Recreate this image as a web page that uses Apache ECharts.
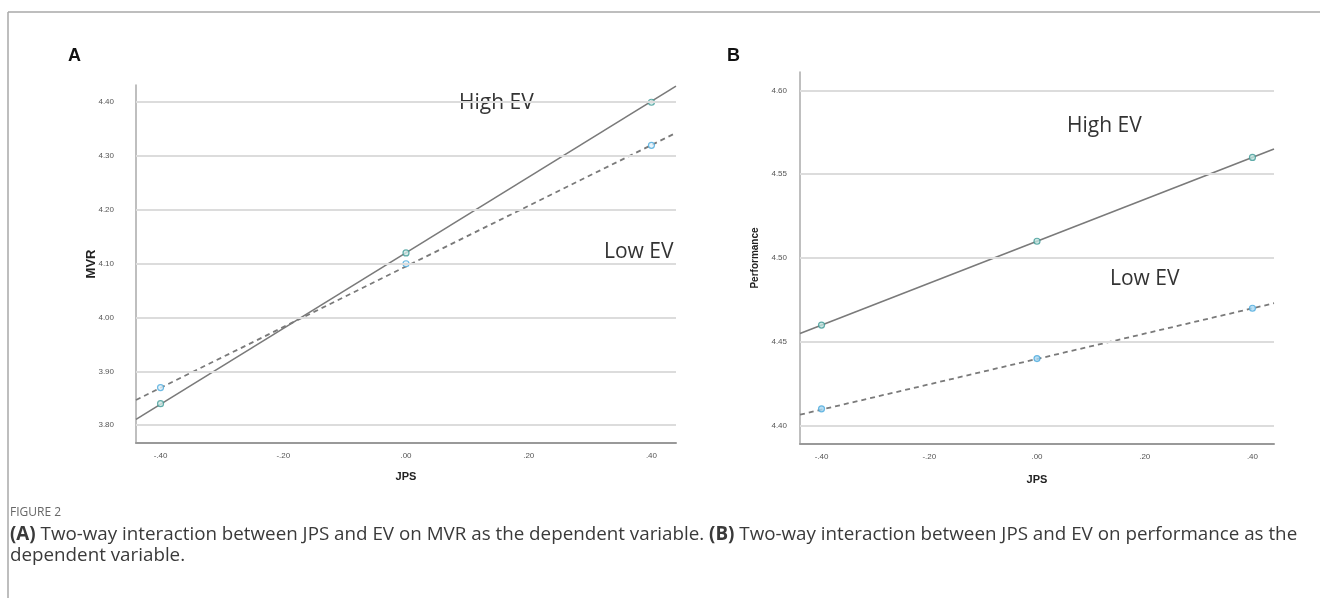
<!DOCTYPE html>
<html>
<head>
<meta charset="utf-8">
<script src="https://cdn.jsdelivr.net/npm/echarts@6/dist/echarts.min.js"></script>
<style>
html,body{margin:0;padding:0;background:#fff;}
#chart{width:1320px;height:598px;}
</style>
</head>
<body>
<div id="chart"></div>
<script>
// ---- data ----
const jpsPoints = [-0.4, 0, 0.4];
const xTickValues = [-0.4, -0.2, 0, 0.2, 0.4];
const xTickLabels = ['-.40', '-.20', '.00', '.20', '.40'];

// Panel A: MVR
const mvrHigh = [3.84, 4.12, 4.40];
const mvrLow = [3.87, 4.10, 4.32];
const mvrHighFitEnds = [[-0.44, 3.811], [0.44, 4.43]];
const mvrLowFitEnds = [[-0.44, 3.847], [0.44, 4.343]];
const mvrTickValues = [3.8, 3.9, 4.0, 4.1, 4.2, 4.3, 4.4];
const mvrTickLabels = ['3.80', '3.90', '4.00', '4.10', '4.20', '4.30', '4.40'];

// Panel B: Performance
const perfHigh = [4.46, 4.51, 4.56];
const perfLow = [4.41, 4.44, 4.47];
const perfHighFitEnds = [[-0.44, 4.455], [0.44, 4.565]];
const perfLowFitEnds = [[-0.44, 4.4065], [0.44, 4.473]];
const perfTickValues = [4.40, 4.45, 4.50, 4.55, 4.60];
const perfTickLabels = ['4.40', '4.45', '4.50', '4.55', '4.60'];

const caption1 = 'Two-way interaction between JPS and EV on MVR as the dependent variable.';
const caption2 = 'Two-way interaction between JPS and EV on performance as the';
const caption3 = 'dependent variable.';

// ---- helpers ----
function labelFor(values, labels) {
  return function (v) {
    for (let i = 0; i < values.length; i++) {
      if (Math.abs(values[i] - v) < 1e-6) return labels[i];
    }
    return '';
  };
}
const pairs = (xs, ys) => xs.map((x, i) => [x, ys[i]]);

const tickFont = { fontSize: 8, color: '#555', fontFamily: 'Liberation Sans' };
const gridLineStyle = { color: '#dcdcdc', width: 2, type: 'solid' };

function xAxisDef(gridIndex, nameGap) {
  return {
    type: 'value', gridIndex, min: -0.44, max: 0.44,
    name: 'JPS', nameLocation: 'middle', nameGap, nameMoveOverlap: false,
    nameTextStyle: { fontFamily: 'Liberation Sans', fontWeight: 'bold', fontSize: 11, color: '#222' },
    axisLine: { show: true, onZero: false, lineStyle: { color: '#999', width: 2 } },
    axisTick: { show: false },
    splitLine: { show: false },
    axisLabel: Object.assign({ customValues: xTickValues, margin: 9, formatter: labelFor(xTickValues, xTickLabels) }, tickFont)
  };
}
function yAxisDef(gridIndex, min, max, name, nameGap, nameSize, vals, labs, margin) {
  return {
    type: 'value', gridIndex, min, max,
    name, nameLocation: 'middle', nameGap, nameMoveOverlap: false,
    nameTextStyle: { fontFamily: 'Liberation Sans', fontWeight: 'bold', fontSize: nameSize, color: '#222' },
    axisLine: { show: true, onZero: false, lineStyle: { color: '#aaa', width: 1.5 } },
    axisTick: { show: false },
    splitLine: { show: false },
    axisLabel: Object.assign({ customValues: vals, margin, formatter: labelFor(vals, labs) }, tickFont)
  };
}
function fitLine(name, data, dashed, xi) {
  return {
    name, type: 'line', xAxisIndex: xi, yAxisIndex: xi, data,
    symbol: 'none', silent: true, z: 3,
    lineStyle: { color: '#7a7a7a', width: dashed ? 1.8 : 1.6, type: dashed ? [5, 4] : 'solid' }
  };
}
function pts(name, data, stroke, fill, xi) {
  return {
    name, type: 'scatter', xAxisIndex: xi, yAxisIndex: xi, data,
    symbol: 'circle', symbolSize: 6, z: 4,
    itemStyle: { color: fill, borderColor: stroke, borderWidth: 1.2 }
  };
}
function gridLines(xi, vals) {
  return {
    type: 'line', xAxisIndex: xi, yAxisIndex: xi, data: [], silent: true, z: 1,
    markLine: {
      silent: true, symbol: 'none', label: { show: false },
      lineStyle: gridLineStyle,
      data: vals.map(v => ({ yAxis: v }))
    }
  };
}

const chart = echarts.init(document.getElementById('chart'), null, { renderer: 'canvas' });
const labelFont = { fontFamily: 'Open Sans', fontSize: 21, fill: '#333' };

chart.setOption({
  animation: false,
  backgroundColor: '#fff',
  grid: [
    { left: 136, right: 644, top: 85, bottom: 155 },
    { left: 800, right: 46, top: 72, bottom: 154 }
  ],
  xAxis: [xAxisDef(0, 28), xAxisDef(1, 30)],
  yAxis: [
    yAxisDef(0, 3.767, 4.432, 'MVR', 38, 13, mvrTickValues, mvrTickLabels, 22),
    yAxisDef(1, 4.389, 4.611, 'Performance', 40, 10, perfTickValues, perfTickLabels, 13)
  ],
  series: [
    gridLines(0, mvrTickValues),
    gridLines(1, perfTickValues),
    fitLine('High EV', mvrHighFitEnds, false, 0),
    fitLine('Low EV', mvrLowFitEnds, true, 0),
    pts('High EV', pairs(jpsPoints, mvrHigh), '#3f9a96', '#cfe9e6', 0),
    pts('Low EV', pairs(jpsPoints, mvrLow), '#4aa9dc', '#e4f3fb', 0),
    fitLine('High EV', perfHighFitEnds, false, 1),
    fitLine('Low EV', perfLowFitEnds, true, 1),
    pts('High EV', pairs(jpsPoints, perfHigh), '#3f9a96', '#bfe3df', 1),
    pts('Low EV', pairs(jpsPoints, perfLow), '#4aa9dc', '#a9d8f2', 1)
  ],
  graphic: [
    { type: 'line', shape: { x1: 8, y1: 12, x2: 1320, y2: 12 }, style: { stroke: '#a8a8a8', lineWidth: 1.5 } },
    { type: 'line', shape: { x1: 8, y1: 12, x2: 8, y2: 598 }, style: { stroke: '#a8a8a8', lineWidth: 1.5 } },
    { type: 'text', left: 68, top: 47, style: { text: 'A', font: 'bold 18px "Liberation Sans"', fill: '#111' } },
    { type: 'text', left: 727, top: 47, style: { text: 'B', font: 'bold 18px "Liberation Sans"', fill: '#111' } },
    { type: 'text', left: 459, top: 93, style: Object.assign({ text: 'High EV' }, labelFont) },
    { type: 'text', left: 604, top: 242, style: Object.assign({ text: 'Low EV' }, labelFont) },
    { type: 'text', left: 1067, top: 116, style: Object.assign({ text: 'High EV' }, labelFont) },
    { type: 'text', left: 1110, top: 269, style: Object.assign({ text: 'Low EV' }, labelFont) },
    { type: 'text', left: 10, top: 507, style: { text: 'FIGURE 2', font: '12px "Open Sans"', fill: '#666' } },
    {
      type: 'text', left: 10, top: 524,
      style: {
        text: '{b|(A)} ' + caption1 + ' {b|(B)} ' + caption2 + '\n' + caption3,
        font: '18.8px "Open Sans"', fill: '#3a3a3a', lineHeight: 21,
        rich: { b: { fontWeight: 'bold', fontFamily: 'Open Sans', fontSize: 18.8, fill: '#3a3a3a' } }
      }
    }
  ]
});
</script>
</body>
</html>
